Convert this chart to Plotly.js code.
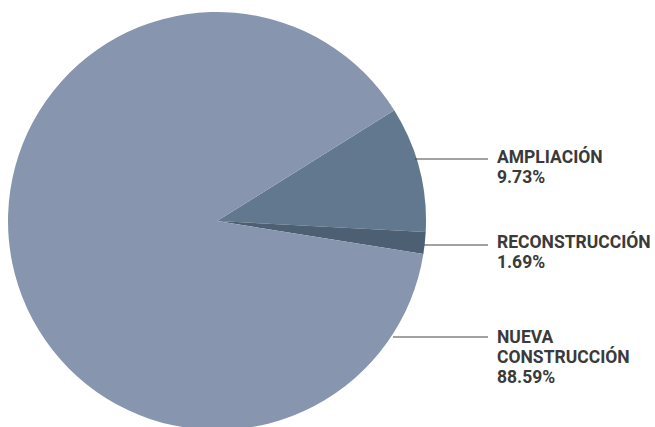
<!DOCTYPE html>
<html><head><meta charset="utf-8">
<script src="https://cdn.plot.ly/plotly-3.0.1.min.js"></script>
<style>html,body{margin:0;padding:0;overflow:hidden;background:#fff}</style>
</head><body><div id="chart" style="width:655px;height:432px"></div>
<script>
var labels = ["AMPLIACIÓN", "RECONSTRUCCIÓN", "NUEVA CONSTRUCCIÓN"];
var labelLines = [["AMPLIACIÓN"], ["RECONSTRUCCIÓN"], ["NUEVA", "CONSTRUCCIÓN"]];
var values = [9.73, 1.69, 88.59];
var valueText = ["9.73%", "1.69%", "88.59%"];
var colors = ["#62788f", "#4c5f73", "#8796ae"];

var trace = {
  type: "pie", labels: labels, values: values, sort: false,
  direction: "clockwise", rotation: 58, textinfo: "none", hoverinfo: "none",
  marker: {colors: colors, line: {width: 0}},
  domain: {x: [8/655, 426/655], y: [2/432, 420/432]}, showlegend: false
};
var lineY = [159, 245, 337];
var lineX0 = [415, 424, 393];
var firstBase = [163, 248, 343];
var shapes = [], annotations = [];
for (var i = 0; i < labels.length; i++) {
  shapes.push({type: "line", xref: "paper", yref: "paper",
    x0: lineX0[i]/655, x1: 488/655, y0: 1 - lineY[i]/432, y1: 1 - lineY[i]/432,
    line: {color: "#444", width: 1}});
  var rows = labelLines[i].concat([valueText[i]]);
  for (var j = 0; j < rows.length; j++) {
    var base = firstBase[i] + j * 20;
    annotations.push({xref: "paper", yref: "paper", x: 495/655, y: 1 - (base - 6.5)/432,
      xanchor: "left", yanchor: "middle", align: "left", showarrow: false,
      text: "<b>" + rows[j] + "</b>",
      font: {family: "Roboto, sans-serif", size: 17.5, color: "#3a3a3a"}});
  }
}
Plotly.newPlot("chart", [trace], {
  width: 655, height: 432, margin: {l: 0, r: 0, t: 0, b: 0},
  paper_bgcolor: "#fff", shapes: shapes, annotations: annotations
}, {displayModeBar: false, staticPlot: true});
</script></body></html>
